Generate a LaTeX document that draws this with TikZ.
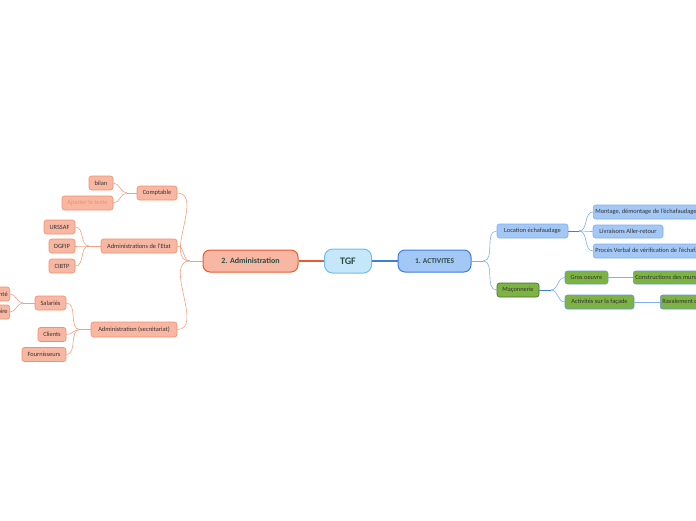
\documentclass[tikz,border=0pt]{standalone}
\usepackage{fontspec}
\setmainfont{Carlito}
\usepackage{xcolor}
\definecolor{admfill}{HTML}{F8B7A2}
\definecolor{admdraw}{HTML}{F0906F}
\definecolor{admmain}{HTML}{EC5A2E}
\definecolor{admline}{HTML}{F5A084}
\definecolor{tgffill}{HTML}{C6E6FA}
\definecolor{tgfdraw}{HTML}{72BDEB}
\definecolor{actfill}{HTML}{A4C8F6}
\definecolor{actdraw}{HTML}{3C7EDD}
\definecolor{actline}{HTML}{80AEF0}
\definecolor{mazfill}{HTML}{7DB343}
\definecolor{mazdraw}{HTML}{41702A}
\definecolor{gosdraw}{HTML}{5E98DD}
\definecolor{txtdark}{HTML}{333333}
\definecolor{maintxt}{HTML}{2F4A44}
\usetikzlibrary{positioning,calc}

\begin{document}
\begin{tikzpicture}[
    x=1pt, y=-1pt,
    font=\fontsize{6.4}{7}\selectfont, text=txtdark,
    admbox/.style={rectangle, rounded corners=2.5pt, minimum height=14pt, inner sep=2pt, align=center, draw=admdraw, fill=admfill, line width=0.6pt},
    actbox/.style={rectangle, rounded corners=2.5pt, minimum height=14pt, inner sep=2pt, align=center, draw=actline, fill=actfill, line width=0.6pt},
    mazbox/.style={rectangle, rounded corners=2.5pt, minimum height=14pt, inner sep=2pt, align=center, draw=gosdraw, fill=mazfill, line width=0.6pt},
    mainbox/.style={rectangle, rounded corners=7pt, minimum height=22pt, align=center, line width=1pt, text=maintxt, font=\fontsize{8}{9}\selectfont\bfseries},
    admlink/.style={draw=admline, line width=0.6pt},
    actlink/.style={draw=actline, line width=0.6pt},
]
\useasboundingbox (0,0) rectangle (696,520);

% Centre
\node[mainbox, minimum width=47pt, minimum height=24pt, rounded corners=8pt, fill=tgffill, draw=tgfdraw, font=\fontsize{10}{11}\selectfont\bfseries] (tgf) at (348,261) {TGF};
\node[mainbox, minimum width=95pt, fill=admfill, draw=admmain] (admin) at (250.5,261) {2. Administration};
\node[mainbox, minimum width=73pt, fill=actfill, draw=actdraw, font=\fontsize{7.4}{8}\selectfont\bfseries] (activ) at (434.5,261) {1. ACTIVITES};

% Left branch - Administration
\node[admbox, minimum width=40pt] (comptable) at (157,193) {Comptable};
\node[admbox, minimum width=24pt] (bilan) at (101,183) {bilan};
\node[admbox, minimum width=51pt, text=admdraw] (ajouter) at (87.5,203) {Ajouter le texte};
\node[admbox, minimum width=76pt] (etat) at (139,246) {Administrations de l'Etat};
\node[admbox, minimum width=31pt] (urssaf) at (59.5,227) {URSSAF};
\node[admbox, minimum width=26pt] (dgfip) at (62,246) {DGFIP};
\node[admbox, minimum width=26pt] (cibtp) at (62,266) {CIBTP};
\node[admbox, minimum width=86pt, minimum height=15pt] (secr) at (134,329.5) {Administration (secrétariat)};
\node[admbox, minimum width=31pt] (salaries) at (50.5,303) {Salariés};
\node[admbox, minimum width=28pt] (clients) at (52,334.5) {Clients};
\node[admbox, minimum width=44pt] (fourn) at (44,354.5) {Fournisseurs};
\node[admbox, anchor=east] (mutuelle) at (10,294) {Mutuelle santé};
\node[admbox, anchor=east] (medecine) at (10,312) {Médecine du travail obligatoire};

% Right branch - Activites
\node[actbox, minimum width=71pt] (location) at (532.5,231) {Location échafaudage};
\node[actbox, anchor=west] (montage) at (593,212) {Montage, démontage de l'échafaudage};
\node[actbox, minimum width=70pt, minimum height=13pt] (livraisons) at (628,231.5) {Livraisons Aller-retour};
\node[actbox, anchor=west] (proces) at (593,251) {Procès Verbal de vérification de l'échafaudage};
\node[mazbox, minimum width=42pt, draw=mazdraw] (maconnerie) at (518,290) {Maçonnerie};
\node[mazbox, minimum width=43pt, minimum height=13pt] (gros) at (586.5,277.5) {Gros oeuvre};
\node[mazbox, anchor=west, minimum height=13pt] (constr) at (633,277.5) {Constructions des murs};
\node[mazbox, minimum width=69pt] (facade) at (599.5,302) {Activités sur la façade};
\node[mazbox, anchor=west] (ravalement) at (660,302) {Ravalement de façade};

% Main links
\draw[draw=admmain, line width=1.2pt] (tgf) -- (admin);
\draw[draw=actdraw, line width=1.2pt] (tgf) -- (activ);

% Administration links
\draw[admlink, line width=1pt] (admin.west) -- (190,261) coordinate (ja);
\foreach \n in {comptable,etat,secr}
  \draw[admlink] (ja) to[out=180,in=0] (\n.east);
\draw[admlink, line width=0.9pt] (comptable.west) -- (127,193) coordinate (jc);
\foreach \n in {bilan,ajouter}
  \draw[admlink] (jc) to[out=180,in=0] (\n.east);
\draw[admlink, line width=0.9pt] (etat.west) -- (89,246) coordinate (je);
\foreach \n in {urssaf,dgfip,cibtp}
  \draw[admlink] (je) to[out=180,in=0] (\n.east);
\draw[admlink, line width=0.9pt] (secr.west) -- (80,329.5) coordinate (js);
\foreach \n in {salaries,clients,fourn}
  \draw[admlink] (js) to[out=180,in=0] (\n.east);
\draw[admlink, line width=0.9pt] (salaries.west) -- (23,303) coordinate (jsa);
\foreach \n in {mutuelle,medecine}
  \draw[admlink] (jsa) to[out=180,in=0] (\n.east);

% Activites links
\draw[actlink, line width=1pt] (activ.east) -- (483,261) coordinate (jac);
\foreach \n in {location,maconnerie}
  \draw[actlink] (jac) to[out=0,in=180] (\n.west);
\draw[draw=actdraw, line width=0.9pt] (location.east) -- (579,231) coordinate (jl);
\foreach \n in {montage,livraisons,proces}
  \draw[actlink] (jl) to[out=0,in=180] (\n.west);
\draw[draw=actdraw, line width=0.9pt] (maconnerie.east) -- (551,290) coordinate (jm);
\foreach \n in {gros,facade}
  \draw[actlink] (jm) to[out=0,in=180] (\n.west);
\draw[actlink] (gros) -- (constr);
\draw[actlink] (facade) -- (ravalement);

\end{tikzpicture}
\end{document}
